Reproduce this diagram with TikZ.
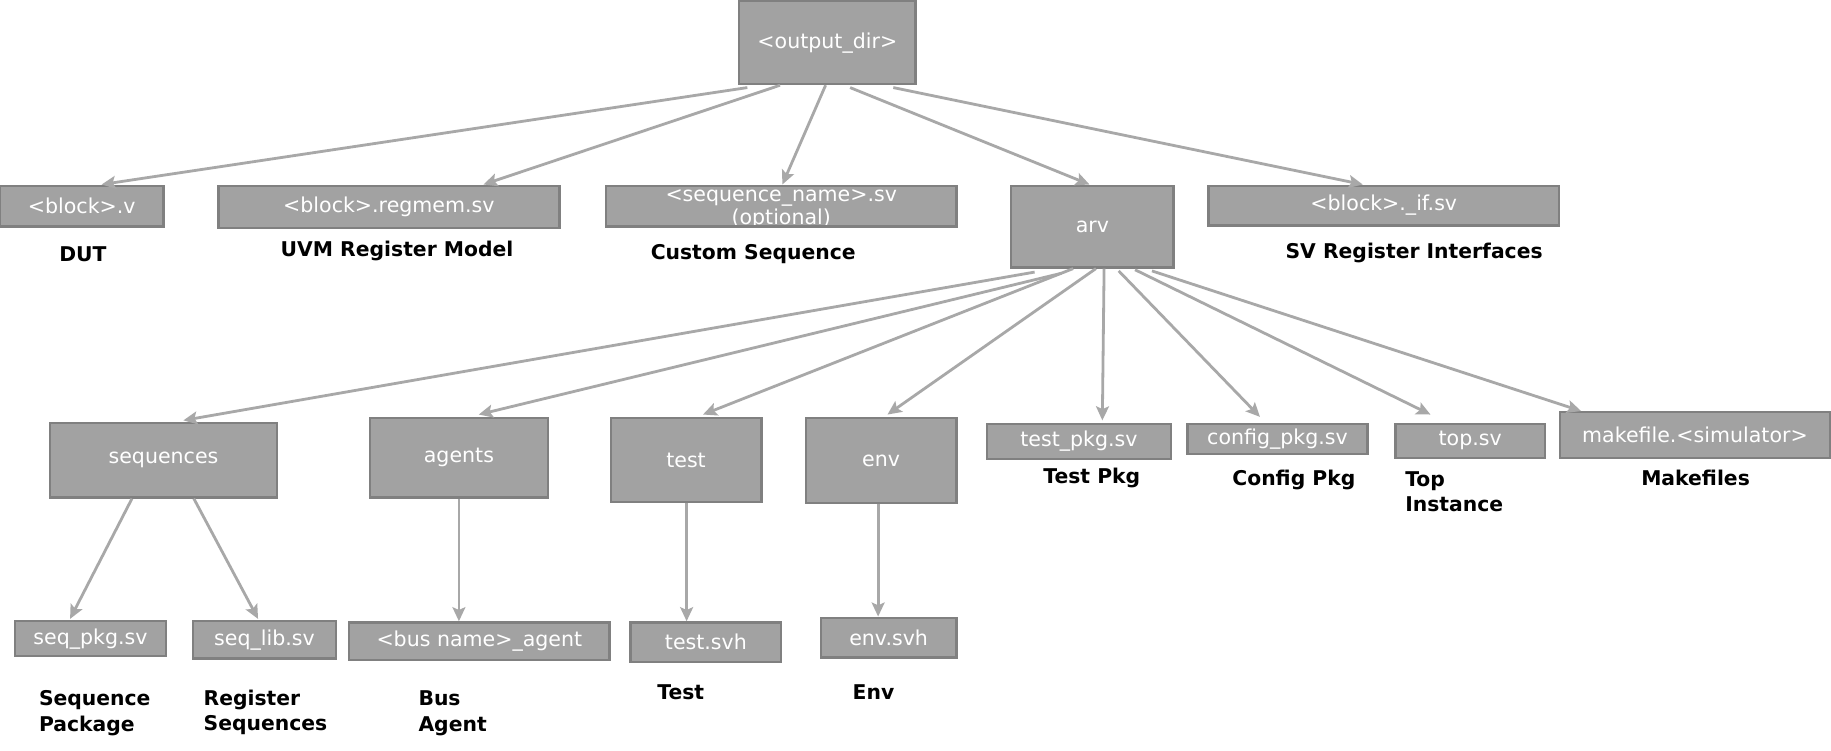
\documentclass[tikz,border=0pt]{standalone}
\usepackage{fontspec}
\setmainfont{DejaVu Sans}
\usetikzlibrary{arrows.meta,calc}
\definecolor{boxfill}{HTML}{A2A2A2}
\definecolor{boxline}{HTML}{808080}
\definecolor{arrcol}{HTML}{A8A8A8}
\tikzset{
  box/.style={draw=boxline, fill=boxfill, line width=1pt, inner sep=0pt, outer sep=0pt,
    text=white, font=\fontsize{8.8}{10}\selectfont},
  boxfillonly/.style={fill=boxfill, inner sep=0pt, outer sep=0pt},
  wtext/.style={text=white, font=\fontsize{8.8}{10}\selectfont, inner sep=0pt, align=center},
  lbl/.style={text=black, font=\fontsize{8.7}{11}\selectfont\bfseries, inner sep=0pt, align=left},
  arr/.style={draw=arrcol, line width=1.2pt, -{Stealth[length=6pt,width=5.5pt,inset=1.2pt]}}
}
\newcommand\bx[7][box]{\node[#1, minimum width={(#5-#3)*0.5pt}, minimum height={(#6-#4)*0.5pt}] (#2) at ({(#3+#5)/2},{(#4+#6)/2}) {#7};}
\begin{document}
\begin{tikzpicture}[x=0.5pt,y=-0.5pt]
\useasboundingbox[fill=white] (0,0) rectangle (1568,643);
% top
\bx{od}{633}{1}{784}{72}{<output\_dir>}
\bx{bv}{0}{159}{140}{194}{<block>.v}
\bx{rm}{187}{159}{479}{195}{<block>.regmem.sv}
\bx[boxfillonly]{sn}{519}{159}{819}{194}{}
\node[wtext] (snt) at (669,179) {<sequence\_name>.sv\\(optional)};
\draw[draw=boxline, line width=1pt] (sn.south west) rectangle (sn.north east);
\bx{arv}{866}{159}{1005}{229}{arv}
\bx{ifs}{1035}{159}{1335}{193}{<block>.\_if.sv}
\node[lbl] (l1) at (71,218) {DUT};
\node[lbl] (l2) at (340,215) {UVM Register Model};
\node[lbl] (l3) at (645,218) {Custom Sequence};
\node[lbl] (l4) at (1211,217) {SV Register Interfaces};
% row 2
\bx{seqs}{43}{362}{237}{426}{sequences}
\bx{ag}{317}{358}{469}{426}{agents}
\bx{tst}{523}{358}{652}{430}{test}
\bx{env}{690}{358}{819}{431}{env}
\bx{tp}{845}{363}{1003}{393}{test\_pkg.sv}
\bx{cp}{1017}{363}{1171}{389}{config\_pkg.sv}
\bx{top}{1195}{363}{1323}{392}{top.sv}
\bx{mk}{1336}{353}{1567}{392}{makefile.<simulator>}
\node[lbl] (l5) at (935,409) {Test Pkg};
\node[lbl] (l6) at (1108,411) {Config Pkg};
\node[lbl, anchor=west] (l7) at (1203,421) {Top\\Instance};
\node[lbl] (l8) at (1452,409) {Makefiles};
% row 3
\bx{sp}{13}{532}{142}{562}{seq\_pkg.sv}
\bx{sl}{165}{532}{288}{564}{seq\_lib.sv}
\bx{bn}{299}{533}{522}{565}{<bus name>\_agent}
\bx{ts}{540}{533}{669}{567}{test.svh}
\bx{es}{703}{529}{819}{563}{env.svh}
\node[lbl, anchor=west] (l9) at (33,611) {Sequence\\Package};
\node[lbl, anchor=west] (l10) at (174,610) {Register\\Sequences};
\node[lbl, anchor=west] (l11) at (358,611) {Bus\\Agent};
\node[lbl] (l12) at (583,593) {Test};
\node[lbl] (l13) at (748,593) {Env};
% arrows from output_dir
\draw[arr] ($(od.south)+(-68.5,3)$) -- ($(bv.north)+(17,-1)$);
\draw[arr] ($(od.south)+(-40.5,1)$) -- ($(rm.north)+(81,-1)$);
\draw[arr] ($(od.south)+(-1.5,1)$) -- ($(sn.north)+(1,-1)$);
\draw[arr] ($(od.south)+(19.5,3)$) -- ($(arv.north)+(-2.5,-1)$);
\draw[arr] ($(od.south)+(56.5,3)$) -- ($(ifs.north)+(-18,-1)$);
% arrows from arv
\draw[arr] ($(arv.south)+(-49.5,4)$) -- ($(seqs.north)+(17,-2)$);
\draw[arr] ($(arv.south)+(-26.5,5)$) -- ($(ag.north)+(17,-3)$);
\draw[arr] ($(arv.south)+(-16.5,1)$) -- ($(tst.north)+(14.5,-3)$);
\draw[arr] ($(arv.south)+(3,1)$) -- ($(env.north)+(5.5,-3)$);
\draw[arr] ($(arv.south)+(10,1)$) -- ($(tp.north)+(20,-3)$);
\draw[arr] ($(arv.south)+(22.5,3)$) -- ($(cp.north)+(-15,-6)$);
\draw[arr] ($(arv.south)+(36.5,2)$) -- ($(top.north)+(-34,-8)$);
\draw[arr] ($(arv.south)+(51,3)$) -- ($(mk.north)+(-97.5,-1)$);
% row 2 -> row 3
\draw[arr] ($(seqs.south)+(-27,1)$) -- ($(sp.north)+(-17.5,-2)$);
\draw[arr] ($(seqs.south)+(26,1)$) -- ($(sl.north)+(-5.5,-2)$);
\draw[arr] ($(ag.south)+(0,1)$) -- ($(bn.north)+(-17.5,-1)$);
\draw[arr] ($(tst.south)+(0.5,1)$) -- ($(ts.north)+(-16.5,-1)$);
\draw[arr] ($(env.south)+(-2.5,1)$) -- ($(es.north)+(-9,-1)$);
\end{tikzpicture}
\end{document}
